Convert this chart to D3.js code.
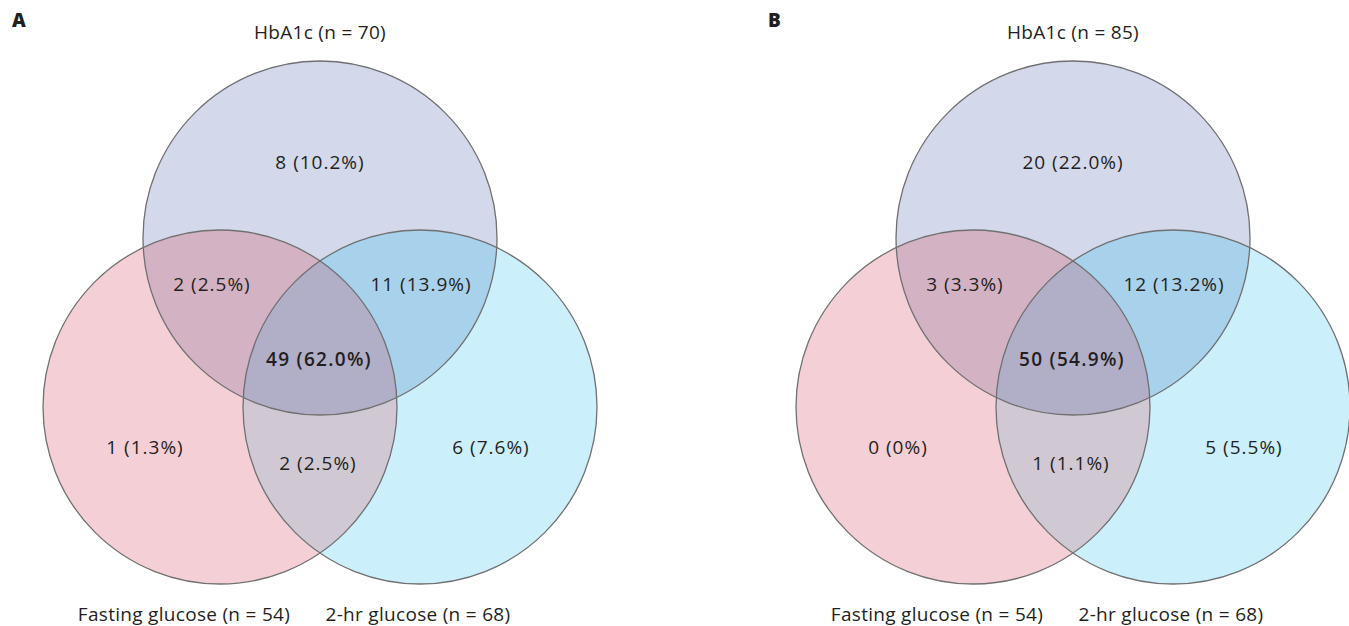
<!DOCTYPE html>
<html>
<head>
<meta charset="utf-8">
<script src="https://cdn.jsdelivr.net/npm/d3@7"></script>
<style>
  body { margin: 0; background: #fff; }
  text { font-family: "Open Sans", "Noto Sans", sans-serif; fill: #231f20; }
</style>
</head>
<body>
<div id="chart"></div>
<script>
// panel data
var panels = ['A', 'B'];
var hba1cTotals = [70, 85];
var fastingTotals = [54, 54];
var twoHrTotals = [68, 68];

// region order: HbA1c only, HbA1c+fasting, HbA1c+2hr, all three, fasting only, fasting+2hr, 2hr only
var regionNames = ['hOnly', 'hf', 'hr', 'all', 'fOnly', 'fr', 'rOnly'];
var countsA = [8, 2, 11, 49, 1, 2, 6];
var pctA = ['10.2', '2.5', '13.9', '62.0', '1.3', '2.5', '7.6'];
var countsB = [20, 3, 12, 50, 0, 1, 5];
var pctB = ['22.0', '3.3', '13.2', '54.9', '0', '1.1', '5.5'];

var width = 1349;
var height = 626;
var panelOffset = 753;
var r = 177;

// circle layout (pixels, panel A)
var centers = {
    top:   { x: 320, y: 238 },
    left:  { x: 220, y: 407 },
    right: { x: 420, y: 407 }
};

// label anchors for the seven regions
var labelPos = [
    { x: 320, y: 162 },
    { x: 212, y: 284 },
    { x: 421, y: 284 },
    { x: 319, y: 359 },
    { x: 145, y: 447 },
    { x: 318, y: 463 },
    { x: 491, y: 447 }
];

var fills = {
    top: '#d3d8eb',
    left: '#f4d0d6',
    right: '#cbeffb',
    tl: '#d3b2c3',
    tr: '#a8d1eb',
    lr: '#d0c9d3',
    all: '#b1aec7'
};

var svg = d3.select('#chart').append('svg')
    .attr('width', width)
    .attr('height', height);

var defs = svg.append('defs');

panels.forEach(function(p, i) {
    var counts = i === 0 ? countsA : countsB;
    var pcts = i === 0 ? pctA : pctB;

    var x = d3.scaleLinear().domain([0, 1]).range([i * panelOffset, i * panelOffset + 1]);
    var g = svg.append('g').attr('class', 'panel-' + p);

    ['top', 'left', 'right'].forEach(function(k) {
        defs.append('clipPath').attr('id', 'clip-' + p + '-' + k)
          .append('circle')
            .attr('cx', x(centers[k].x))
            .attr('cy', centers[k].y)
            .attr('r', r);
    });

    function circ(sel, k, fill) {
        return sel.append('circle')
            .attr('cx', x(centers[k].x))
            .attr('cy', centers[k].y)
            .attr('r', r)
            .attr('fill', fill);
    }
    function clipped(sel, k) {
        return sel.append('g').attr('clip-path', 'url(#clip-' + p + '-' + k + ')');
    }

    var fillG = g.append('g');
    circ(fillG, 'top', fills.top);
    circ(fillG, 'left', fills.left);
    circ(fillG, 'right', fills.right);
    circ(clipped(fillG, 'top'), 'left', fills.tl);
    circ(clipped(fillG, 'top'), 'right', fills.tr);
    circ(clipped(fillG, 'left'), 'right', fills.lr);
    circ(clipped(clipped(fillG, 'left'), 'right'), 'top', fills.all);

    ['top', 'left', 'right'].forEach(function(k) {
        circ(g, k, 'none')
            .attr('stroke', '#707070')
            .attr('stroke-width', 1.3);
    });

    g.selectAll('.region-label')
        .data(regionNames)
      .enter().append('text')
        .attr('class', 'region-label')
        .attr('x', function(d, j) { return x(labelPos[j].x); })
        .attr('y', function(d, j) { return labelPos[j].y; })
        .attr('dy', '0.35em')
        .attr('text-anchor', 'middle')
        .style('font-size', '19px')
        .style('letter-spacing', function(d) { return d === 'all' ? '1.3px' : '1px'; })
        .style('font-weight', function(d) { return d === 'all' ? 600 : 400; })
        .text(function(d, j) { return counts[j] + ' (' + pcts[j] + '%)'; });

    function title(tx, ty, s) {
        g.append('text')
            .attr('x', x(tx))
            .attr('y', ty)
            .attr('text-anchor', 'middle')
            .style('font-size', '19px')
            .style('letter-spacing', '0.3px')
            .text(s);
    }
    title(320, 39, 'HbA1c (n = ' + hba1cTotals[i] + ')');
    title(184, 621, 'Fasting glucose (n = ' + fastingTotals[i] + ')');
    title(418, 621, '2-hr glucose (n = ' + twoHrTotals[i] + ')');

    g.append('text')
        .attr('x', i === 0 ? 12 : 768)
        .attr('y', 27)
        .style('font-size', '19px')
        .style('font-weight', 800)
        .text(p);
});
</script>
</body>
</html>
